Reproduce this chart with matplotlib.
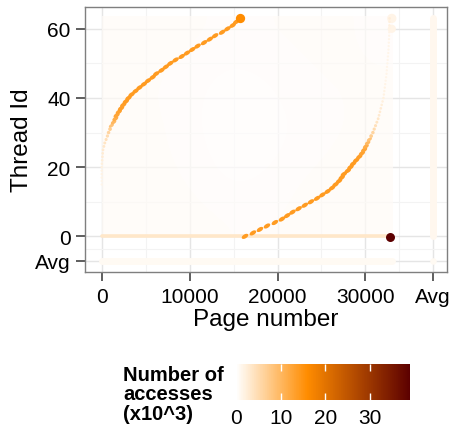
import numpy as np
import matplotlib
matplotlib.use('Agg')
import matplotlib.pyplot as plt
from matplotlib.colors import LinearSegmentedColormap, Normalize
from matplotlib.path import Path
from matplotlib.transforms import Affine2D

plt.rcParams['font.family'] = ['Liberation Sans', 'DejaVu Sans']

# page number touched by each thread, upper branch (threads 15..63)
upper_threads = list(range(15, 64))
upper_pages = [0, 0, 0, 0, 0, 0, 20, 50, 80, 110, 150, 250, 350, 500, 650,
               780, 950, 1100, 1350, 1550, 1700, 1950, 2200, 2450, 2750, 3050,
               3400, 3850, 4300, 4800, 5270, 5800, 6200, 6800, 7300, 7800, 8400,
               9100, 9700, 10300, 10900, 11650, 12300, 12900, 13700, 14300,
               14900, 15300, 15750]
upper_vals = [1.5, 1.5, 1.6, 1.7, 1.8, 2.0, 2.2, 2.4, 2.6, 2.8, 3.0, 3.4, 3.8,
              4.4, 5.0, 6.0, 7.0, 8.5, 10, 11.5, 12.5, 13, 13.5, 13.5, 14, 14,
              14, 14, 14, 14, 14, 14, 14, 14, 14, 14, 14, 14, 14, 14, 14, 14,
              14, 14, 14, 14, 14, 14, 16]

# lower branch (threads 0..63)
lower_threads = list(range(0, 64))
lower_pages = [16300, 17200, 18000, 18800, 19700, 20500, 21100, 21700, 22400,
               23100, 23800, 24500, 25100, 25700, 26200, 26600, 27000, 27300,
               27550, 28000, 28300, 28600, 28950, 29300, 29600, 29850, 30050,
               30250, 30450, 30650, 30850, 31000, 31150, 31300, 31450, 31550,
               31650, 31750, 31850, 31950, 32050, 32100, 32150, 32200, 32250,
               32300, 32350, 32400, 32430, 32460, 32500, 32530, 32560, 32600,
               32620, 32640, 32660, 32680, 32700, 32710, 32720, 32730, 32740,
               32750]
lower_vals = [14, 14, 14, 14, 14, 14, 14, 14, 14, 14, 14, 14, 14, 14, 14, 14,
              14, 14, 14, 14, 14, 14, 14, 13.5, 13, 12.5, 11.5, 10, 8.5, 7, 6,
              5, 4.4, 3.8, 3.4, 3.0, 2.8, 2.6, 2.4, 2.2, 2.0, 1.9, 1.8, 1.7,
              1.6, 1.5, 1.5, 1.5, 1.5, 1.5, 1.5, 1.5, 1.5, 1.5, 1.5, 1.5, 1.5,
              1.5, 1.5, 1.6, 1.8, 2.0, 2.2, 2.5]

# coarse level of the scattered background accesses (rows: thread bands, bottom->top)
bg_level = np.array([
    [0.60, 0.60, 0.55, 0.45, 0.45, 0.50, 0.55, 0.50],
    [0.60, 0.55, 0.45, 0.30, 0.35, 0.50, 0.55, 0.50],
    [0.55, 0.50, 0.40, 0.20, 0.25, 0.40, 0.50, 0.50],
    [0.55, 0.50, 0.35, 0.15, 0.20, 0.35, 0.45, 0.50],
    [0.55, 0.45, 0.35, 0.20, 0.25, 0.40, 0.45, 0.50],
    [0.55, 0.50, 0.40, 0.30, 0.35, 0.45, 0.50, 0.45],
    [0.60, 0.55, 0.50, 0.40, 0.45, 0.50, 0.50, 0.40],
])

max_page = 33000
max_thread = 63
thread0_val = 3.5      # thread 0 accesses all pages
last_page_val = 39     # hot page at the end, thread 0
avg_row_val = 0.9
avg_col_val = 1.1
vmax = 39

AVG_X = 37660
AVG_Y = -7.06

cmap = LinearSegmentedColormap.from_list(
    'acc', [(0, '#FFFFFF'), (0.41, '#FF8C00'), (1, '#5C0000')])
norm = Normalize(0, vmax)

# slanted dash marker (several neighbouring pages merge into one stroke)
circ = Path.unit_circle()
dash = Path(Affine2D().scale(1.0, 0.55).rotate_deg(32).transform(circ.vertices),
            circ.codes)


def draw_branch(pages, threads, vals):
    pages = np.asarray(pages)
    threads = np.asarray(threads)
    vals = np.asarray(vals)
    small = vals < 8
    mid = (vals >= 8) & (vals < 15)
    hot = vals >= 15
    ax.scatter(pages[small], threads[small], c=vals[small], cmap=cmap, norm=norm,
               s=1.5 + vals[small] * 0.8, lw=0, zorder=3)
    ax.scatter(pages[mid], threads[mid], c=vals[mid], cmap=cmap, norm=norm,
               s=vals[mid] * 1.7, marker=dash, lw=0, zorder=3)
    if hot.any():
        ax.scatter(pages[hot], threads[hot], c=vals[hot], cmap=cmap, norm=norm,
                   s=vals[hot] * 2.8, lw=0, zorder=3)


fig = plt.figure(figsize=(4.51, 4.27), dpi=100)
ax = fig.add_axes([85 / 451, 1 - 273 / 427, 362 / 451, 265 / 427])

ax.imshow(bg_level, cmap=cmap, norm=norm, origin='lower', aspect='auto',
          extent=(0, max_page, 0, max_thread + 0.5), interpolation='bicubic',
          alpha=0.7, zorder=1)

# thread 0 row, avg row, avg column
ax.plot([0, max_page], [0, 0], color=cmap(norm(thread0_val)), lw=2.6,
        solid_capstyle='round', zorder=2)
ax.plot([0, max_page], [AVG_Y, AVG_Y], color=cmap(norm(avg_row_val)), lw=5,
        solid_capstyle='round', zorder=2)
ax.plot([AVG_X, AVG_X], [0, max_thread], color=cmap(norm(avg_col_val)), lw=5,
        solid_capstyle='round', zorder=2)
ax.scatter([AVG_X], [AVG_Y], s=22, color=cmap(norm(avg_row_val)), lw=0, zorder=2)
ax.scatter([max_page, max_page], [63, 60], s=[45, 35],
           color=cmap(norm(1.6)), lw=0, zorder=2)

draw_branch(upper_pages, upper_threads, upper_vals)
draw_branch(lower_pages, lower_threads, lower_vals)
sc = ax.scatter([32770], [-0.2], c=[last_page_val], cmap=cmap, norm=norm,
                s=42, lw=0, zorder=4)

ax.set_xlim(-1900, 39280)
ax.set_ylim(-10.3, 66.3)
ax.set_xticks([0, 10000, 20000, 30000, AVG_X])
ax.set_xticklabels(['0', '10000', '20000', '30000', 'Avg'])
ax.set_yticks([0, 20, 40, 60, AVG_Y])
ax.set_yticklabels(['0', '20', '40', '60', 'Avg'])
ax.set_xticks([5000, 15000, 25000, (30000 + AVG_X) / 2], minor=True)
ax.set_yticks([10, 30, 50, AVG_Y / 2], minor=True)
ax.tick_params(which='major', length=6.5, width=1.1, color='#333333',
               labelsize=15, pad=4)
ax.tick_params(which='minor', length=0)
ax.grid(which='major', color='#E5E5E5', lw=1, zorder=0)
ax.grid(which='minor', color='#F3F3F3', lw=0.8, zorder=0)
ax.set_axisbelow(True)
for s in ax.spines.values():
    s.set_color('#7F7F7F')
    s.set_linewidth(1)

ax.set_xlabel('Page number', fontsize=17.5, labelpad=2)
ax.set_ylabel('Thread Id', fontsize=17.5, labelpad=1)

cax = fig.add_axes([236 / 451, 1 - 401 / 427, 174 / 451, 36 / 427])
cb = fig.colorbar(sc, cax=cax, orientation='horizontal')
cb.outline.set_visible(False)
cb.set_ticks([0, 10, 20, 30])
cax.tick_params(direction='in', length=5, width=1, color='white',
                top=True, bottom=True, labelsize=15, pad=6)
fig.text(123 / 451, 1 - 395 / 427, 'Number of\naccesses\n(x10^3)', fontsize=14.5,
         fontweight='bold', ha='left', va='center', linespacing=1.05)

fig.savefig('out.png', dpi=100)
